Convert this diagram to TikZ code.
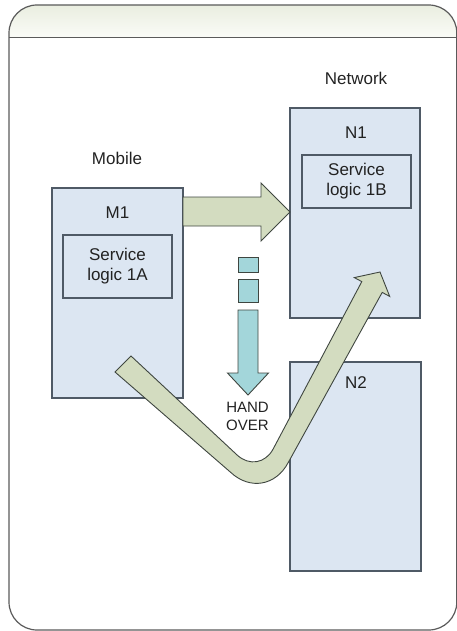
\documentclass[tikz,border=0pt]{standalone}
\usepackage{fontspec}
\setmainfont{Liberation Sans}
\usetikzlibrary{calc}
\definecolor{boxfill}{HTML}{DCE6F2}
\definecolor{boxline}{HTML}{4F5A66}
\definecolor{arrgreen}{HTML}{D3DCC0}
\definecolor{arrteal}{HTML}{A3D6DA}
\definecolor{arrline}{HTML}{3F4640}
\definecolor{frameline}{HTML}{5A5A5A}
\definecolor{headtop}{HTML}{EAEEE0}
\definecolor{headbot}{HTML}{FAFBF7}
\definecolor{txt}{HTML}{222222}
\begin{document}
\begin{tikzpicture}[x=1pt,y=-1pt,
  box/.style={draw=boxline, fill=boxfill, line width=1.1pt, inner sep=0pt, outer sep=0pt, rectangle},
  lbl/.style={font=\fontsize{17}{20}\selectfont, text=txt, align=center, inner sep=0pt},
  small/.style={font=\fontsize{15}{18}\selectfont, text=txt, align=center, inner sep=0pt},
  greenarrow/.style={draw=arrline, fill=arrgreen, line width=0.9pt, line join=miter},
  tealarrow/.style={draw=arrline, fill=arrteal, line width=0.9pt, line join=miter}]
\useasboundingbox (0,0) rectangle (457,631);
% frame with header
\begin{scope}
  \clip[rounded corners=28] (9,5) rectangle (456.8,630);
  \shade[top color=headtop, bottom color=headbot] (9,5) rectangle (456.8,37.5);
\end{scope}
\draw[frameline, line width=1.2pt, rounded corners=28] (9,5) rectangle (456.8,630);
\draw[frameline, line width=1.3pt] (9,37.5) -- (456.8,37.5);

% labels of sides
\node[lbl] (mobile) at (117,158) {Mobile};
\node[lbl] (network) at (356,78) {Network};

% boxes
\node[box, minimum width=131, minimum height=210] (m1) at (117.5,293) {};
\node[lbl] (m1lbl) at (117.5,213) {M1};
\node[box, minimum width=109, minimum height=63] (sl1a) at (117.5,266.5) {};
\node[lbl] (sl1atext) at (sl1a.center) {Service\\logic 1A};

\node[box, minimum width=130, minimum height=210] (n1) at (355,213) {};
\node[lbl] (n1lbl) at (356,133) {N1};
\node[box, minimum width=109, minimum height=53] (sl1b) at (356.5,181.5) {};
\node[lbl] (sl1btext) at (sl1b.center) {Service\\logic 1B};

\node[box, minimum width=131, minimum height=209] (n2) at (355.5,466.5) {};
\node[lbl] (n2lbl) at (356,383) {N2};

% M1 -> N1 block arrow
\draw[greenarrow] (m1.east |- 0,197) -- (261,197) -- (261,183) -- (n1.west |- 0,212)
  -- (261,241) -- (261,226) -- (m1.east |- 0,226) -- cycle;

% hand over arrow
\draw[tealarrow] (238,257) rectangle (258,272);
\draw[tealarrow] (238,279) rectangle (258,302);
\draw[tealarrow] (238,310) -- (238,373) -- (227.5,373) -- (248,395) -- (268.5,373)
  -- (258,373) -- (258,310) -- cycle;
\node[small] (handover) at (247.5,416) {HAND\\OVER};

% V-shaped hand-over path arrow
\draw[greenarrow] (115,372) -- (230.6,472.3)
  .. controls (249.9,490.3) and (275.8,485.9) .. (288.2,462.6)
  -- (382.2,292.4) -- (389.7,296.4) -- (380,272) -- (354.3,277.6) -- (361.8,281.6)
  -- (273.2,448.9)
  .. controls (265.4,463.5) and (249.2,466.2) .. (237.1,455)
  -- (131,356) -- cycle;
\end{tikzpicture}
\end{document}
